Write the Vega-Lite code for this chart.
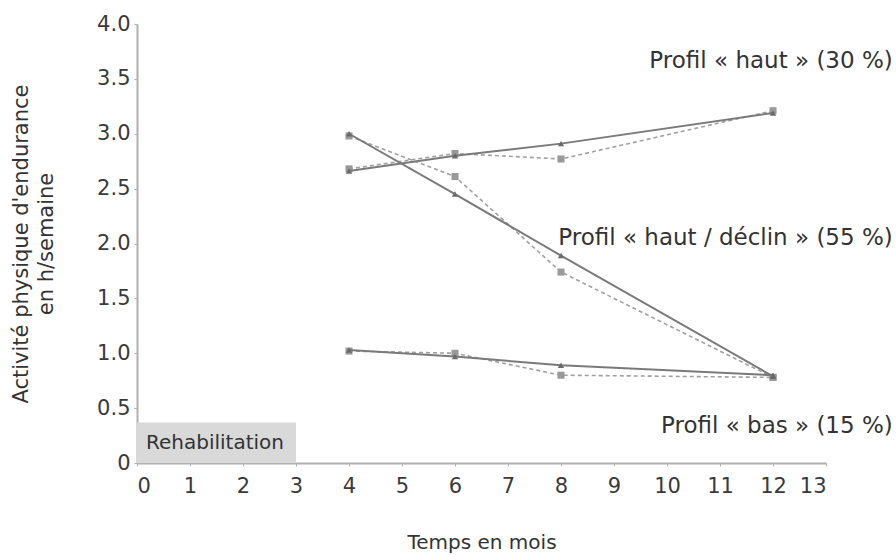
{
  "$schema": "https://vega.github.io/schema/vega-lite/v6.json",
  "width": 689,
  "height": 439,
  "autosize": {"type": "none"},
  "padding": {"left": 137, "top": 24, "right": 70, "bottom": 92},
  "background": "white",
  "config": {
    "view": {"stroke": null},
    "font": "DejaVu Sans",
    "axis": {"grid": false, "domainColor": "#b0b0b0", "domainWidth": 2, "tickColor": "#b0b0b0", "tickSize": 3, "labelColor": "#3a3a3a", "labelFontSize": 21, "titleColor": "#333333", "titleFontSize": 20, "titleFontWeight": "normal", "labelFont": "DejaVu Sans", "titleFont": "DejaVu Sans"}
  },
  "datasets": {
    "lines": [
      {"profil": "haut", "type": "obs", "mois": 4, "val": 2.66},
      {"profil": "haut", "type": "obs", "mois": 6, "val": 2.8},
      {"profil": "haut", "type": "obs", "mois": 8, "val": 2.91},
      {"profil": "haut", "type": "obs", "mois": 12, "val": 3.19},
      {"profil": "haut", "type": "est", "mois": 4, "val": 2.68},
      {"profil": "haut", "type": "est", "mois": 6, "val": 2.82},
      {"profil": "haut", "type": "est", "mois": 8, "val": 2.77},
      {"profil": "haut", "type": "est", "mois": 12, "val": 3.21},
      {"profil": "declin", "type": "obs", "mois": 4, "val": 3.0},
      {"profil": "declin", "type": "obs", "mois": 6, "val": 2.45},
      {"profil": "declin", "type": "obs", "mois": 8, "val": 1.89},
      {"profil": "declin", "type": "obs", "mois": 12, "val": 0.79},
      {"profil": "declin", "type": "est", "mois": 4, "val": 2.98},
      {"profil": "declin", "type": "est", "mois": 6, "val": 2.61},
      {"profil": "declin", "type": "est", "mois": 8, "val": 1.74},
      {"profil": "declin", "type": "est", "mois": 12, "val": 0.78},
      {"profil": "bas", "type": "obs", "mois": 4, "val": 1.03},
      {"profil": "bas", "type": "obs", "mois": 6, "val": 0.97},
      {"profil": "bas", "type": "obs", "mois": 8, "val": 0.89},
      {"profil": "bas", "type": "obs", "mois": 12, "val": 0.8},
      {"profil": "bas", "type": "est", "mois": 4, "val": 1.02},
      {"profil": "bas", "type": "est", "mois": 6, "val": 1.0},
      {"profil": "bas", "type": "est", "mois": 8, "val": 0.8},
      {"profil": "bas", "type": "est", "mois": 12, "val": 0.78}
    ],
    "labels": [
      {"txt": "Profil « haut » (30 %)", "x": 14.26, "y": 3.66},
      {"txt": "Profil « haut / déclin » (55 %)", "x": 14.26, "y": 2.05},
      {"txt": "Profil « bas » (15 %)", "x": 14.26, "y": 0.34}
    ],
    "rehab": [{"x0": 0, "x1": 3, "y0": 0, "y1": 0.37, "txt": "Rehabilitation"}]
  },
  "layer": [
    {
      "data": {"name": "rehab"},
      "mark": {"type": "rect", "color": "#d9d9d9"},
      "encoding": {
        "x": {"field": "x0", "type": "quantitative", "scale": {"domain": [0, 13], "nice": false}, "axis": {"values": [0,1,2,3,4,5,6,7,8,9,10,11,12,13], "title": "Temps en mois", "titlePadding": 36, "labelPadding": 9}},
        "x2": {"field": "x1"},
        "y": {"field": "y0", "type": "quantitative", "scale": {"domain": [0, 4], "nice": false}, "axis": {"values": [0,0.5,1,1.5,2,2.5,3,3.5,4], "labelExpr": "datum.value == 0 ? '0' : format(datum.value, '.1f')", "title": ["Activité physique d'endurance", "en h/semaine"], "titlePadding": 40, "titleLineHeight": 25, "titleFontSize": 21, "labelPadding": 4}},
        "y2": {"field": "y1"}
      }
    },
    {
      "data": {"name": "rehab"},
      "mark": {"type": "text", "align": "left", "baseline": "middle", "dx": 9, "fontSize": 20, "color": "#333333"},
      "encoding": {
        "x": {"field": "x0", "type": "quantitative"},
        "y": {"value": 419},
        "text": {"field": "txt"}
      }
    },
    {
      "data": {"name": "lines"},
      "transform": [{"filter": "datum.type == 'est'"}],
      "mark": {"type": "line", "color": "#a0a0a0", "strokeWidth": 1.6, "strokeDash": [4, 3], "point": {"shape": "square", "size": 50, "color": "#9a9a9a", "filled": true}},
      "encoding": {
        "x": {"field": "mois", "type": "quantitative"},
        "y": {"field": "val", "type": "quantitative"},
        "detail": {"field": "profil"}
      }
    },
    {
      "data": {"name": "lines"},
      "transform": [{"filter": "datum.type == 'obs'"}],
      "mark": {"type": "line", "color": "#7a7a7a", "strokeWidth": 2, "point": {"shape": "triangle-up", "size": 40, "color": "#6a6a6a", "filled": true}},
      "encoding": {
        "x": {"field": "mois", "type": "quantitative"},
        "y": {"field": "val", "type": "quantitative"},
        "detail": {"field": "profil"}
      }
    },
    {
      "data": {"name": "labels"},
      "mark": {"type": "text", "align": "right", "baseline": "middle", "fontSize": 23, "color": "#333333", "clip": false},
      "encoding": {
        "x": {"field": "x", "type": "quantitative"},
        "y": {"field": "y", "type": "quantitative"},
        "text": {"field": "txt"}
      }
    }
  ]
}
